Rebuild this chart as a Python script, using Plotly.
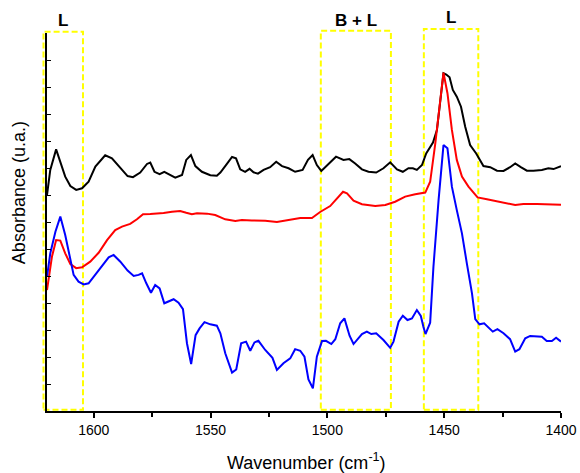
import plotly.graph_objects as go

# IR spectra of pyridine adsorbed on the catalysts (arbitrary absorbance units)
wn_black = [1620.0, 1618.6, 1616.1, 1614.0, 1612.2, 1610.0, 1607.5, 1605.0, 1602.2, 1599.3,
            1595.1, 1592.2, 1588.6, 1585.5, 1583.2, 1580.1, 1577.2, 1575.8, 1574.0, 1571.8,
            1569.8, 1567.5, 1565.1, 1562.2, 1560.4, 1558.4, 1556.5, 1553.7, 1550.1, 1547.3,
            1545.8, 1543.0, 1540.8, 1539.1, 1537.3, 1535.2, 1533.3, 1531.6, 1529.7, 1527.3,
            1524.5, 1521.9, 1519.4, 1516.6, 1513.8, 1510.6, 1508.3, 1506.3, 1504.5, 1502.6,
            1499.5, 1496.3, 1493.1, 1490.6, 1488.1, 1485.2, 1482.4, 1479.1, 1476.0, 1473.1,
            1470.2, 1467.7, 1465.3, 1463.4, 1461.7, 1459.5, 1457.7, 1454.8, 1453.1, 1451.0,
            1450.3, 1449.1, 1447.7, 1446.3, 1444.6, 1442.8, 1441.0, 1438.9, 1436.3, 1433.2,
            1430.3, 1427.4, 1424.6, 1421.8, 1419.6, 1417.2, 1414.6, 1411.8, 1408.2, 1405.4,
            1403.2, 1400.0]
abs_black = [0.800, 0.893, 0.969, 0.917, 0.868, 0.833, 0.819, 0.825, 0.849, 0.905,
             0.947, 0.936, 0.899, 0.870, 0.866, 0.883, 0.915, 0.920, 0.886, 0.877,
             0.886, 0.874, 0.864, 0.874, 0.930, 0.948, 0.907, 0.886, 0.873, 0.871,
             0.883, 0.915, 0.941, 0.936, 0.895, 0.886, 0.897, 0.884, 0.879, 0.893,
             0.903, 0.923, 0.907, 0.899, 0.886, 0.893, 0.930, 0.948, 0.911, 0.889,
             0.917, 0.942, 0.930, 0.933, 0.917, 0.895, 0.886, 0.883, 0.899, 0.921,
             0.895, 0.886, 0.899, 0.899, 0.893, 0.911, 0.954, 0.994, 1.041, 1.189,
             1.251, 1.246, 1.236, 1.189, 1.164, 1.127, 1.053, 0.985, 0.954, 0.907,
             0.903, 0.890, 0.889, 0.903, 0.917, 0.903, 0.890, 0.890, 0.893, 0.899,
             0.896, 0.907]

wn_red = [1620.0, 1617.9, 1616.1, 1614.3, 1612.2, 1610.0, 1607.5, 1605.0, 1601.5, 1597.9,
          1594.3, 1590.8, 1587.9, 1584.4, 1581.5, 1578.9, 1575.8, 1570.1, 1566.5, 1563.0,
          1560.4, 1558.0, 1555.8, 1551.5, 1548.0, 1543.7, 1539.4, 1536.6, 1532.3, 1526.6,
          1521.6, 1516.6, 1511.6, 1506.6, 1503.1, 1498.8, 1495.9, 1493.3, 1491.6, 1488.8,
          1485.2, 1479.5, 1475.2, 1471.0, 1466.7, 1462.4, 1458.1, 1456.0, 1453.8, 1452.0,
          1450.3, 1448.6, 1446.7, 1444.6, 1442.4, 1439.6, 1435.7, 1431.7, 1426.0, 1419.6,
          1416.1, 1410.3, 1400.0]
abs_red = [0.448, 0.571, 0.633, 0.631, 0.584, 0.544, 0.529, 0.532, 0.553, 0.586,
           0.633, 0.670, 0.683, 0.693, 0.710, 0.729, 0.730, 0.733, 0.738, 0.741,
           0.734, 0.729, 0.732, 0.731, 0.726, 0.710, 0.704, 0.707, 0.706, 0.705,
           0.700, 0.707, 0.715, 0.715, 0.737, 0.759, 0.788, 0.812, 0.806, 0.779,
           0.766, 0.759, 0.763, 0.775, 0.794, 0.803, 0.809, 0.849, 0.991, 1.127,
           1.253, 1.177, 1.041, 0.930, 0.868, 0.831, 0.791, 0.784, 0.775, 0.763,
           0.767, 0.767, 0.764]

wn_blue = [1620.0, 1618.6, 1616.4, 1614.3, 1612.2, 1610.3, 1608.6, 1606.5, 1604.3, 1602.2,
           1599.3, 1596.5, 1593.6, 1591.5, 1588.6, 1585.5, 1582.9, 1580.8, 1579.3, 1577.5,
           1575.5, 1573.7, 1571.8, 1569.8, 1568.0, 1565.8, 1563.7, 1561.8, 1560.1, 1558.3,
           1556.4, 1554.7, 1552.6, 1550.1, 1547.3, 1545.8, 1543.7, 1540.8, 1539.0, 1536.9,
           1534.8, 1533.0, 1531.2, 1529.5, 1526.6, 1523.5, 1521.6, 1518.8, 1515.9, 1513.8,
           1511.6, 1509.8, 1508.1, 1506.2, 1504.5, 1502.3, 1500.6, 1498.3, 1496.6, 1494.5,
           1492.7, 1490.5, 1488.8, 1485.2, 1483.1, 1481.2, 1479.1, 1476.0, 1473.1, 1471.7,
           1469.5, 1467.7, 1465.7, 1463.8, 1461.7, 1460.0, 1458.9, 1458.0, 1456.0, 1454.6,
           1452.4, 1450.3, 1448.6, 1446.7, 1444.6, 1442.4, 1440.3, 1438.1, 1436.7, 1434.9,
           1432.9, 1431.0, 1429.2, 1427.2, 1424.6, 1421.8, 1419.6, 1417.8, 1415.3, 1413.2,
           1408.2, 1406.1, 1403.9, 1402.1, 1400.0]
abs_blue = [0.497, 0.584, 0.664, 0.720, 0.652, 0.571, 0.504, 0.479, 0.469, 0.473,
            0.504, 0.538, 0.569, 0.578, 0.553, 0.520, 0.500, 0.504, 0.510, 0.473,
            0.438, 0.467, 0.454, 0.399, 0.405, 0.414, 0.401, 0.377, 0.251, 0.174,
            0.281, 0.306, 0.329, 0.321, 0.316, 0.288, 0.214, 0.142, 0.154, 0.251,
            0.257, 0.223, 0.254, 0.260, 0.226, 0.197, 0.152, 0.177, 0.195, 0.229,
            0.223, 0.201, 0.117, 0.084, 0.201, 0.259, 0.260, 0.248, 0.266, 0.325,
            0.343, 0.279, 0.248, 0.285, 0.294, 0.285, 0.288, 0.263, 0.234, 0.257,
            0.331, 0.353, 0.337, 0.343, 0.374, 0.352, 0.312, 0.285, 0.327, 0.534,
            0.781, 0.985, 0.973, 0.831, 0.744, 0.658, 0.547, 0.436, 0.340, 0.321,
            0.325, 0.309, 0.294, 0.303, 0.288, 0.266, 0.220, 0.229, 0.269, 0.278,
            0.275, 0.259, 0.259, 0.271, 0.257]

# Band regions (wavenumber limits) and their labels: L = Lewis, B = Brønsted
band_labels = ["L", "B + L", "L"]
band_hi = [1621.5, 1502.8, 1458.7]
band_lo = [1604.6, 1472.8, 1435.4]

x_tick_vals = [1600, 1550, 1500, 1450, 1400]
x_range = [1620, 1400]
y_range = [0, 1.4]

FONT = "Arial, Liberation Sans, sans-serif"

fig = go.Figure()
for wn, ab, col in [(wn_black, abs_black, "#000000"),
                    (wn_red, abs_red, "#ff0000"),
                    (wn_blue, abs_blue, "#0000ff")]:
    fig.add_trace(go.Scatter(x=wn, y=ab, mode="lines",
                             line=dict(color=col, width=2), showlegend=False))


def to_dom(w):
    return (x_range[0] - w) / (x_range[0] - x_range[1])


box_tops = [1.0034, 1.006, 1.0106]
label_y = [1.034, 1.034, 1.042]
for lab, hi, lo, top, ly in zip(band_labels, band_hi, band_lo, box_tops, label_y):
    x0, x1 = to_dom(hi), to_dom(lo)
    fig.add_shape(type="rect", xref="x domain", yref="y domain",
                  x0=x0, x1=x1, y0=0.003, y1=top, layer="below",
                  line=dict(color="#ffff00", width=2, dash="6px,3px"),
                  fillcolor="rgba(0,0,0,0)")
    fig.add_annotation(text="<b>%s</b>" % lab, xref="x domain", yref="paper",
                       x=(x0 + x1) / 2, y=ly, xanchor="center", yanchor="middle",
                       showarrow=False, font=dict(family=FONT, size=17, color="black"))

fig.add_annotation(text="Wavenumber (cm<sup>-1</sup>)", xref="paper", yref="paper",
                   x=0.505, y=-0.133, xanchor="center", yanchor="middle", showarrow=False,
                   font=dict(family=FONT, size=18, color="black"))
fig.add_annotation(text="Absorbance (u.a.)", xref="paper", yref="paper",
                   x=-0.054, y=0.577, xanchor="center", yanchor="middle", showarrow=False,
                   textangle=-90, font=dict(family=FONT, size=18, color="black"))

fig.update_layout(
    width=580, height=473,
    margin=dict(l=47, r=19, t=33, b=62, autoexpand=False),
    paper_bgcolor="white", plot_bgcolor="white",
    font=dict(family=FONT, color="black"),
    xaxis=dict(range=x_range, tickvals=x_tick_vals, ticks="outside", ticklen=5,
               tickwidth=1.5, tickcolor="black", showline=True, linecolor="black",
               linewidth=1.5, showgrid=False, zeroline=False, automargin=False,
               tickfont=dict(family=FONT, size=14, color="black"),
               minor=dict(dtick=25, ticks="outside", ticklen=4, tickwidth=1.5,
                          tickcolor="black", showgrid=False)),
    yaxis=dict(range=y_range, dtick=0.1, tick0=0, ticks="inside", ticklen=4,
               tickwidth=1, tickcolor="black", showticklabels=False, showline=True,
               linecolor="black", linewidth=1.5, showgrid=False, zeroline=False,
               automargin=False),
)

fig.write_html("out.html")
